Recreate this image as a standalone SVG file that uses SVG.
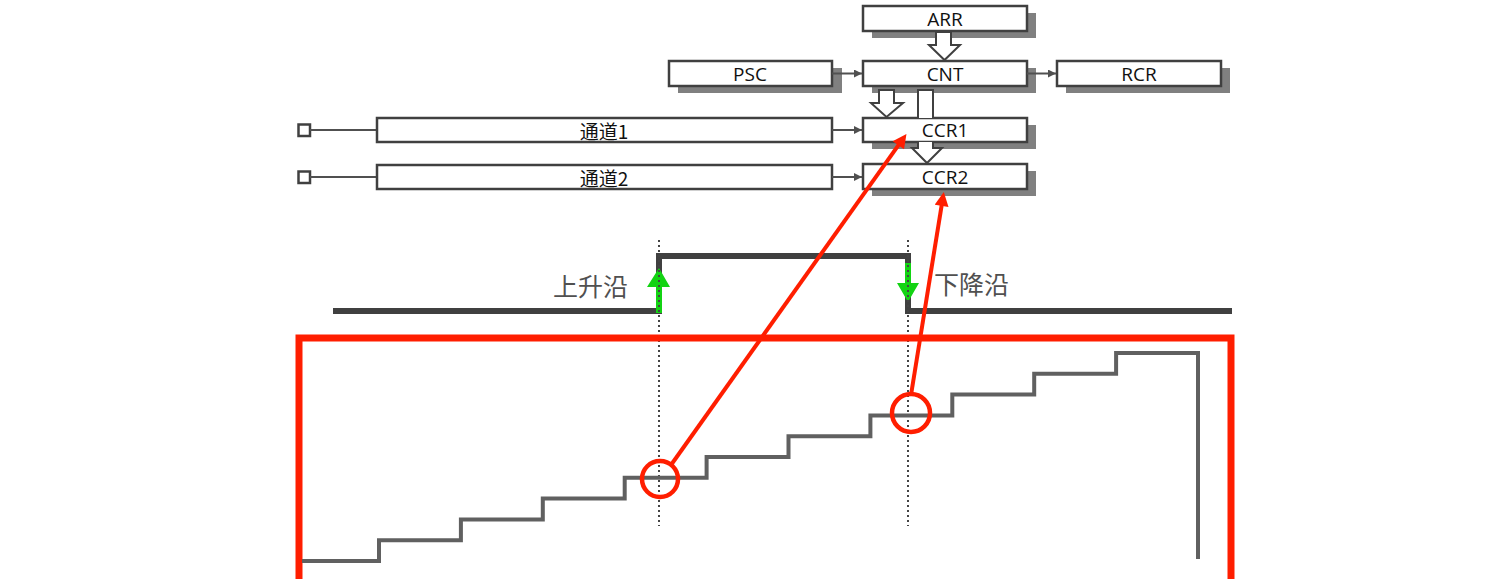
<svg xmlns="http://www.w3.org/2000/svg" width="1493" height="579" viewBox="0 0 1493 579">
<style>
.box{fill:#fff;stroke:#404040;stroke-width:2.5}
.sh{fill:#808080}
.lbl{font-family:"Open Sans","Noto Sans","Noto Sans CJK SC",sans-serif;font-size:19px;fill:#111;text-anchor:middle;dominant-baseline:central}
.cjk{font-family:"Noto Sans CJK SC",sans-serif;font-size:19px;fill:#111;text-anchor:middle;dominant-baseline:central}
.edge{font-family:"Noto Sans CJK SC",sans-serif;font-size:25px;fill:#505050;dominant-baseline:central}
.hollow{fill:#fff;stroke:#404040;stroke-width:2}
.thin{stroke:#505050;stroke-width:2;fill:none}
.red{stroke:#ff1e00;stroke-width:4;fill:none}
.dot{stroke:#444;stroke-width:2;stroke-dasharray:2 3;fill:none}
</style>
<defs>
<marker id="ga" viewBox="0 0 10 10" refX="10" refY="5" markerUnits="userSpaceOnUse" markerWidth="9" markerHeight="8" orient="auto"><path d="M0,0 L10,5 L0,10 z" fill="#505050"/></marker>
<marker id="ra" viewBox="0 0 10 10" refX="5" refY="5" markerUnits="userSpaceOnUse" markerWidth="17" markerHeight="14" orient="auto"><path d="M0,0 L10,5 L0,10 z" fill="#ff1e00"/></marker>
</defs>
<rect width="1493" height="579" fill="#fff"/>

<g id="waveform">
<path d="M333,311 H659 V256 H908 V311 H1232" fill="none" stroke="#404040" stroke-width="6"/>
<polygon points="656,313 656,287 647,287 659,268 670,287 662,287 662,313" fill="#13d313"/>
<polygon points="905,263 905,283 897,283 908,302 919,283 911,283 911,263" fill="#13d313"/>
<line class="dot" x1="659" y1="240" x2="659" y2="526"/>
<line class="dot" x1="908" y1="240" x2="908" y2="526"/>
<text class="edge" x="628" y="285" text-anchor="end">上升沿</text>
<text class="edge" x="934" y="283">下降沿</text>
</g>

<g id="counter-frame">
<path d="M299,585 V338 H1231 V585" fill="none" stroke="#ff1e00" stroke-width="7"/>
<path d="M302,561 H379 V540.2 H460.9 V519.4 H542.8 V498.6 H624.7 V477.8 H706.6 V457 H788.5 V436.2 H870.4 V415.4 H952.3 V394.6 H1034.2 V373.8 H1116.1 V353 H1198 V559" fill="none" stroke="#606060" stroke-width="4"/>
<circle cx="660" cy="479" r="18" fill="none" stroke="#ff1e00" stroke-width="4.5"/>
<circle cx="911" cy="413" r="19" fill="none" stroke="#ff1e00" stroke-width="4.5"/>
</g>

<g id="ARR"><rect class="sh" x="872" y="13" width="164" height="25"/><rect class="box" x="863" y="6" width="164" height="25"/><text class="lbl" x="945" y="18.5">ARR</text></g>
<g id="PSC"><rect class="sh" x="678" y="68" width="164" height="25"/><rect class="box" x="669" y="61" width="163" height="25"/><text class="lbl" x="750" y="73.5">PSC</text></g>
<g id="CNT"><rect class="sh" x="872" y="68" width="164" height="25"/><rect class="box" x="863" y="61" width="164" height="25"/><text class="lbl" x="945" y="73.5">CNT</text></g>
<g id="RCR"><rect class="sh" x="1066" y="68" width="164" height="25"/><rect class="box" x="1057" y="61" width="164" height="25"/><text class="lbl" x="1139" y="73.5">RCR</text></g>
<g id="CH1"><rect class="box" x="298.5" y="124.5" width="11.5" height="11.5" fill="#fff"/><line class="thin" x1="310" y1="130" x2="377" y2="130"/><rect class="box" x="377" y="118" width="455" height="24"/><text class="cjk" x="604" y="130">通道1</text></g>
<g id="CCR1"><rect class="sh" x="872" y="125" width="164" height="24"/><rect class="box" x="863" y="118" width="164" height="24"/><text class="lbl" x="945" y="130">CCR1</text></g>
<g id="CH2"><rect class="box" x="298.5" y="171.5" width="11.5" height="11.5" fill="#fff"/><line class="thin" x1="310" y1="177" x2="377" y2="177"/><rect class="box" x="377" y="165" width="455" height="24"/><text class="cjk" x="604" y="177">通道2</text></g>
<g id="CCR2"><rect class="sh" x="872" y="171" width="164" height="25"/><rect class="box" x="863" y="164" width="164" height="25"/><text class="lbl" x="945" y="176.5">CCR2</text></g>

<g id="connectors">
<polygon class="hollow" points="936,32 951,32 951,45 960,45 944.5,60 929,45 936,45"/>
<polygon class="hollow" points="879,90 894,90 894,103 903,103 886.5,117 871,103 879,103"/>
<path class="hollow" d="M918,118 V90 H933 V118"/>
<path class="hollow" d="M918,142 V148 H912 L927,163 L942,148 H933 V142"/>
<line class="thin" x1="832" y1="73.5" x2="862" y2="73.5" marker-end="url(#ga)"/>
<line class="thin" x1="1027" y1="73.5" x2="1056" y2="73.5" marker-end="url(#ga)"/>
<line class="thin" x1="832" y1="130" x2="862" y2="130" marker-end="url(#ga)"/>
<line class="thin" x1="832" y1="177" x2="862" y2="177" marker-end="url(#ga)"/>
<line class="red" x1="671" y1="465" x2="902.4" y2="139.6" marker-end="url(#ra)"/>
<line class="red" x1="911" y1="395" x2="942.7" y2="198.9" marker-end="url(#ra)"/>
</g>
</svg>
